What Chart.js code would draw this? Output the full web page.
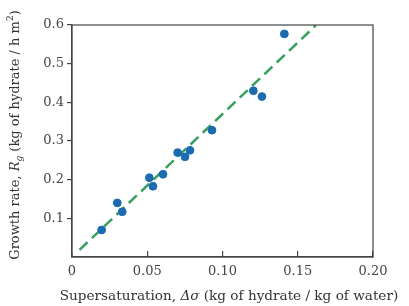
<!DOCTYPE html>
<html>
<head>
<meta charset="utf-8">
<script src="https://cdn.jsdelivr.net/npm/chart.js@4"></script>
<style>
html,body{margin:0;padding:0;background:#fff;}
#wrap{width:409px;height:306px;position:relative;}
</style>
</head>
<body>
<div id="wrap"><canvas id="c" width="409" height="306"></canvas></div>
<script>
// Data
const supersaturation = [0.0197, 0.0301, 0.0334, 0.0514, 0.0538, 0.0605, 0.0702, 0.0751, 0.0784, 0.0930, 0.1205, 0.1262, 0.1411];
const growthRate      = [0.070, 0.140, 0.117, 0.205, 0.183, 0.214, 0.270, 0.259, 0.276, 0.328, 0.430, 0.415, 0.577];
const fitX = [0.005, 0.162];
const fitY = [0.0185, 0.599];
const xTicks = [0, 0.05, 0.10, 0.15, 0.20];
const xTickLabels = ['0', '0.05', '0.10', '0.15', '0.20'];
const yTicks = [0.1, 0.2, 0.3, 0.4, 0.5, 0.6];
const yTickLabels = ['0.1', '0.2', '0.3', '0.4', '0.5', '0.6'];
const yTitleParts = [['Growth rate, ', 'n'], ['R', 'i'], ['g', 'sub'], [' (kg of hydrate / h m', 'n'], ['2', 'sup'], [')', 'n']];
const xTitleParts = [['Supersaturation, ', 'n'], ['\u0394\u03c3', 'i'], [' (kg of hydrate / kg of water)', 'n']];

const FONT = '"DejaVu Serif", serif';
const PLOT = {left: 72, right: 373, top: 25, bottom: 257};

function partFont(style, size) {
  if (style === 'i') return 'italic ' + size + 'px ' + FONT;
  if (style === 'sub') return 'italic ' + Math.round(size * 0.7) + 'px ' + FONT;
  if (style === 'sup') return Math.round(size * 0.7) + 'px ' + FONT;
  return size + 'px ' + FONT;
}
function drawParts(ctx, parts, size) {
  let total = 0;
  parts.forEach(p => { ctx.font = partFont(p[1], size); total += ctx.measureText(p[0]).width; });
  let x = -total / 2;
  parts.forEach(p => {
    ctx.font = partFont(p[1], size);
    let dy = 0;
    if (p[1] === 'sub') dy = size * 0.3;
    if (p[1] === 'sup') dy = -size * 0.4;
    ctx.fillText(p[0], x, dy);
    x += ctx.measureText(p[0]).width;
  });
}

const framePlugin = {
  id: 'frame',
  afterDraw(chart) {
    const ctx = chart.ctx, a = chart.chartArea;
    ctx.save();
    ctx.strokeStyle = '#444';
    ctx.lineWidth = 1.2;
    ctx.strokeRect(a.left, a.top, a.right - a.left, a.bottom - a.top);
    ctx.fillStyle = '#333';
    ctx.textBaseline = 'middle';
    ctx.textAlign = 'left';
    ctx.save();
    ctx.translate(229, 296);
    drawParts(ctx, xTitleParts, 13.6);
    ctx.restore();
    ctx.save();
    ctx.translate(16, 135);
    ctx.rotate(-Math.PI / 2);
    drawParts(ctx, yTitleParts, 13);
    ctx.restore();
    ctx.restore();
  }
};

new Chart(document.getElementById('c'), {
  type: 'scatter',
  data: {
    datasets: [
      {
        type: 'line',
        data: fitX.map((x, i) => ({x: x, y: fitY[i]})),
        borderColor: '#36a05e',
        borderWidth: 2.5,
        borderDash: [11, 6],
        pointRadius: 0,
        fill: false,
        order: 2
      },
      {
        data: supersaturation.map((x, i) => ({x: x, y: growthRate[i]})),
        backgroundColor: '#1b6bb0',
        borderColor: '#1b6bb0',
        pointRadius: 3.9,
        pointHoverRadius: 3.9,
        order: 1
      }
    ]
  },
  options: {
    responsive: false,
    animation: false,
    events: [],
    layout: {padding: {left: 0, right: 409 - PLOT.right, top: PLOT.top, bottom: 0}},
    plugins: {legend: {display: false}, tooltip: {enabled: false}},
    scales: {
      x: {
        type: 'linear',
        min: 0, max: 0.2,
        afterBuildTicks(scale) { scale.ticks = xTicks.map(v => ({value: v})); },
        afterFit(scale) { scale.height = 306 - PLOT.bottom; },
        border: {display: true, color: '#444', width: 1.2},
        grid: {drawOnChartArea: false, drawTicks: true, tickLength: -6, color: '#444', lineWidth: 1.2},
        ticks: {
          padding: 13,
          color: '#444',
          font: {family: FONT, size: 13},
          maxRotation: 0,
          callback(v) { return xTickLabels[xTicks.indexOf(v)] ?? ''; }
        }
      },
      y: {
        type: 'linear',
        min: 0, max: 0.6,
        afterBuildTicks(scale) { scale.ticks = yTicks.map(v => ({value: v})); },
        afterFit(scale) { scale.width = PLOT.left; },
        border: {display: true, color: '#444', width: 1.2},
        grid: {drawOnChartArea: false, drawTicks: true, tickLength: 5, color: '#444', lineWidth: 1.2},
        ticks: {
          padding: 3,
          color: '#444',
          font: {family: FONT, size: 13},
          callback(v) { const k = yTicks.findIndex(t => Math.abs(t - v) < 1e-9); return k >= 0 ? yTickLabels[k] : ''; }
        }
      }
    }
  },
  plugins: [framePlugin]
});
</script>
</body>
</html>
